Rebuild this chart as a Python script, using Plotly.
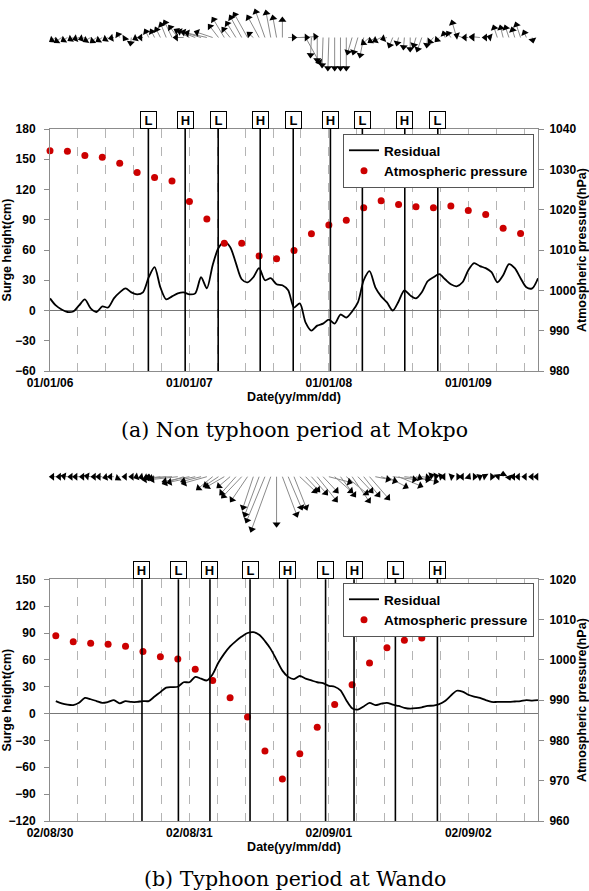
import math
import pandas as pd
import plotly.graph_objects as go

W, H = 589, 891

# ---------------- (a) Non typhoon period at Mokpo ----------------
start_a = "2001-01-06 00:00"
end_a = "2001-01-09 12:00"
residual_a = [12, 5, 1, -1.5, -1, 5, 11, 2, -1.5, 4,
              3, 12, 18, 22, 18, 16, 18, 33, 43, 23,
              11, 14, 17, 18, 16, 17, 33, 22, 45, 62,
              68, 63, 47, 31, 28, 33, 42, 30, 32, 26,
              25, 20, 3, 7, -12, -20, -15, -13, -9, -13,
              -4, -7, -1, 8, 30, 39, 23, 14, 8, 0,
              9, 20, 15, 12, 18, 29, 33, 36, 31, 26,
              24, 28, 40, 47, 44, 42, 38, 28, 35, 46,
              42, 32, 23, 22, 32]
pressure_a = [1034.6, 1034.5, 1033.4, 1033.0, 1031.5, 1029.2, 1028.0, 1027.1,
              1022.0, 1017.7, 1011.7, 1011.7, 1008.5, 1007.8, 1009.9, 1014.0,
              1016.2, 1017.4, 1020.5, 1022.2, 1021.3, 1020.7, 1020.5, 1020.9,
              1019.8, 1018.8, 1015.4, 1014.1]
tide_a_times = ["2001-01-06 16:56", "2001-01-06 23:16", "2001-01-07 04:57",
                "2001-01-07 12:11", "2001-01-07 17:52", "2001-01-08 00:16",
                "2001-01-08 05:46", "2001-01-08 13:04", "2001-01-08 18:45"]
tide_a_labels = ["L", "H", "L", "H", "L", "H", "L", "H", "L"]
# hourly wind stick components (east, north)
wind_u_a = [-6, -6, -7, -6, -5, -6, -6, -7, -6, -6, -5, -5, -3, -2, -1, -4, -5,
            -4, -4, -5, -6, -8, -9, -10, -15, -18, -20, -22, -18, -10, -12, -8,
            -10, -12, -14, -6, -12, -10, -5, -4, 0, 8, 15, 18, 15, -1, 0, -1, -1,
            0, 0, 0, -5, -5, -4, -8, -7, -8, -6, -4, -2, -1, 0, -3, -5, -1, -5,
            -4, -2, -4, -5, -8, -6, -4, -10, -3, -4, -4, -3, -4, -3, -5, -3, 1, 0]
wind_v_a = [1, -4, -5, -4, -3, -2, -2, -4, -5, -4, -3, -1, 5, -3, -8, -2, 0,
            8, 8, 10, 15, 17, 12, 0, 8, 7, 6, 5, 6, 13, 20, 10,
            16, 22, 25, 5, 22, 28, 27, 22, 20, 0, 0, 1, -27, -20, -25, -30, -33,
            -33, -33, -33, -17, -17, -20, -7, -5, -4, -2, -10, -8, -12, -14, -10, -14, -10, -6,
            -4, 6, 6, 17, 3, 0, 0, 1, 0, 1, 12, 12, 12, 10, 15, 7, -5, 0]

# ---------------- (b) Typhoon period at Wando ----------------
start_b = "2002-08-30 00:00"
first_b = "2002-08-30 01:00"
end_b = "2002-09-02 12:00"
residual_b = [14, 11.5, 10, 9.5, 12, 17.5, 16, 14, 12, 13,
              15, 11.5, 14, 13, 13, 14, 14, 19, 24, 29,
              29.5, 30, 35, 35, 41, 39, 37, 44, 57, 67,
              75, 81, 86, 90, 91, 88, 81, 72, 60, 48,
              41, 38.5, 42, 39, 37, 35, 34, 31, 30, 26,
              15, 6, 4.5, 8, 12, 9.5, 11, 12, 10, 8.5,
              6.5, 5.5, 6, 7, 8.5, 9, 10.5, 14, 20, 25.5,
              24.5, 21, 19, 17.5, 15, 13, 13, 13, 13, 13.5,
              14, 15, 14.5, 15]
pressure_b = [1006.0, 1004.5, 1004.1, 1003.9, 1003.4, 1002.1, 1000.8, 1000.2,
              997.7, 994.9, 990.6, 985.8, 977.4, 970.4, 976.7, 983.3,
              988.9, 993.8, 999.2, 1003.0, 1004.9, 1005.4, 1006.8, 1009.1,
              1010.3, 1011.0, 1011.5, 1011.8]
tide_b_times = ["2002-08-30 15:50", "2002-08-30 22:06", "2002-08-31 03:32",
                "2002-08-31 10:26", "2002-08-31 16:54", "2002-08-31 23:26",
                "2002-09-01 04:20", "2002-09-01 11:27", "2002-09-01 18:41"]
tide_b_labels = ["H", "L", "H", "L", "H", "L", "H", "L", "H"]
wind_u_b = [-6, -5, -6, -5, -6, -5, -6, -5, -6, -5, -6, -4,
            -3, -2, -3, -4, -5, -8, -12,
            -24, -27, -28, -21, -27, -28, -20, -25,
            -16, -15, -19, -13, -16, -20, -17,
            -11, -15, -19, -20, 0,
            15, 14, 13, 17, 14, 16, 20, 15, 23, 18, 15, 22, 18, 15, 16, 20,
            15, 16, 21, 24, 24, 26, 28,
            6, 8, 6, 5, 4, -4, 3, 4, -3, 2, 3, 2, -3, 3, 2, 0, 1, -4, -5, -4, -3, -4]
wind_v_b = [0, 0, 1, 0, 0, 0, 1, 0, 0, -1, 0, -3,
            0, 0, -1, -1, -2, -2, -2,
            -3, -1, -3, -7, -5, -6, -5, -7,
            -13, -10, -11, -11, -18, -21, -25,
            -33, -40, -46, -55, -50,
            -40, -33, -33, -16, -15, -18, -25, -16, -6, -16, -20, -18, -26, -16, -20, -23,
            -3, -5, -11, -3, -10, -3, -5,
            -2, -1, 2, 1, 1, 0, 1, 0, 0, -2, 0, 1, 2, 0, 2, 5, -3, 0, 0, 0, 0, 0]

date_title = "Date(yy/mm/dd)"
left_title = "Surge height(cm)"
right_title = "Atmospheric pressure(hPa)"
captions = ["(a) Non typhoon period at Mokpo", "(b) Typhoon period at Wando"]

# ---------------- layout helpers ----------------
def py(y_px):
    return 1 - y_px / H

XL, XR = 50 / W, 538 / W
SANS = "Liberation Sans, Arial, sans-serif"
GRID = "#b4b4b4"
AX = "#8c8c8c"
tickf = dict(family=SANS, size=12, color="black", weight="bold")
titlef = dict(family=SANS, size=12.5, color="black", weight="bold")

fig = go.Figure()

panels = [
    dict(res=residual_a, pres=pressure_a, t1=start_a,
         tide=tide_a_times, tl=tide_a_labels, wu=wind_u_a, wv=wind_v_a,
         x="x", y="y", y2="y2", wx="x3", wy="y5", legend="legend", wind_first=0),
    dict(res=residual_b, pres=pressure_b, t1=first_b,
         tide=tide_b_times, tl=tide_b_labels, wu=wind_u_b, wv=wind_v_b,
         x="x2", y="y3", y2="y4", wx="x4", wy="y6", legend="legend2", wind_first=1),
]

annotations = []
shapes = []
sx = 84.0 / 488.0  # hours per pixel in the stick panels
for p in panels:
    t_res = pd.date_range(p["t1"], periods=len(p["res"]), freq="h")
    t_pres = pd.date_range(p["t1"], periods=len(p["pres"]), freq="3h")
    fig.add_trace(go.Scatter(x=t_res, y=p["res"], mode="lines", name="Residual",
                             line=dict(color="black", width=1.8, shape="spline", smoothing=0.8),
                             xaxis=p["x"], yaxis=p["y"], legend=p["legend"]))
    fig.add_trace(go.Scatter(x=t_pres, y=p["pres"], mode="markers", name="Atmospheric pressure",
                             marker=dict(color="#cc0000", size=7), cliponaxis=False,
                             xaxis=p["x"], yaxis=p["y2"], legend=p["legend"]))
    for t, lab in zip(p["tide"], p["tl"]):
        shapes.append(dict(type="line", xref=p["x"], yref=p["y"] + " domain",
                           x0=t, x1=t, y0=0, y1=1, line=dict(color="black", width=1.6)))
        annotations.append(dict(x=t, y=1, xref=p["x"], yref=p["y"] + " domain",
                                yanchor="bottom", text=lab, showarrow=False,
                                font=dict(family=SANS, size=13, color="black", weight="bold"),
                                bordercolor="black", borderwidth=1, bgcolor="white",
                                width=13, height=14, borderpad=1))
    # wind sticks: x axis in hours from start, y axis in pixels
    xs, ys, hx, hy, ang = [], [], [], [], []
    for i, (u, v) in enumerate(zip(p["wu"], p["wv"])):
        h0 = i + p["wind_first"]
        if u == 0 and v == 0:
            continue
        L = math.hypot(u, v)
        xs += [h0, h0 + u * sx, None]
        ys += [0, v, None]
        back = 2.5 / L
        hx.append(h0 + u * (1 - back) * sx)
        hy.append(v * (1 - back))
        ang.append(math.degrees(math.atan2(u, v)))
    fig.add_trace(go.Scatter(x=xs, y=ys, mode="lines", line=dict(color="#8a8a8a", width=1),
                             xaxis=p["wx"], yaxis=p["wy"], showlegend=False, hoverinfo="skip"))
    fig.add_trace(go.Scatter(x=hx, y=hy, mode="markers",
                             marker=dict(symbol="triangle-up", size=7, color="black", angle=ang,
                                         line=dict(width=0)),
                             xaxis=p["wx"], yaxis=p["wy"], showlegend=False, hoverinfo="skip",
                             cliponaxis=False))

for k, cap in enumerate(captions):
    annotations.append(dict(x=0.5, y=py([430, 879][k]), xref="paper", yref="paper",
                            text=cap, showarrow=False, xanchor="center", yanchor="middle",
                            font=dict(family="DejaVu Serif, serif", size=20.5, color="black")))

def xaxis_cfg(t0, t1, anchor):
    return dict(domain=[XL, XR], type="date", range=[t0, t1], anchor=anchor, automargin=False,
                tick0=t0, dtick=86400000, tickformat="%y/%m/%d", tickfont=tickf,
                showgrid=True, griddash="dash", gridcolor=GRID, gridwidth=1,
                minor=dict(tick0=t0, dtick=17280000, showgrid=True, griddash="dash",
                           gridcolor=GRID, gridwidth=1),
                showline=True, linecolor=AX, linewidth=1, mirror=True, ticks="",
                zeroline=False, ticklabelstandoff=1,
                title=dict(text=date_title, font=titlef, standoff=0))

def yleft(dom, r, anchor):
    return dict(domain=dom, range=r, dtick=30, anchor=anchor, tickfont=tickf, automargin=False,
                ticks="outside", ticklen=5, tickcolor=AX, showline=True, linecolor=AX,
                showgrid=False, zeroline=True, zerolinecolor="#777777", zerolinewidth=1,
                ticklabelstandoff=6, title=dict(text=left_title, font=titlef, standoff=6))

def yright(over, r, anchor):
    return dict(overlaying=over, side="right", range=r, dtick=10, anchor=anchor,
                automargin=False, tickfont=tickf, ticks="outside", ticklen=5, tickcolor=AX,
                showline=True, linecolor=AX, showgrid=False, zeroline=False,
                ticklabelstandoff=3, title=dict(text=right_title, font=titlef, standoff=6))

dom_a = [py(371), py(129)]
dom_b = [py(821), py(579.3)]

leg = dict(xanchor="left", yanchor="top", bgcolor="white", bordercolor="#555555",
           borderwidth=1, font=dict(family=SANS, size=13.5, color="black", weight="bold"),
           itemwidth=30, tracegroupgap=0)

hidden = dict(visible=False, automargin=False)
fig.update_layout(
    template="none",
    width=W, height=H, margin=dict(l=0, r=0, t=0, b=0, autoexpand=False),
    paper_bgcolor="white", plot_bgcolor="white",
    font=dict(family=SANS, color="black"),
    xaxis=xaxis_cfg(start_a, end_a, "y"),
    yaxis=yleft(dom_a, [-60, 180], "x"),
    yaxis2=yright("y", [980, 1040], "x"),
    xaxis2=xaxis_cfg(start_b, end_b, "y3"),
    yaxis3=yleft(dom_b, [-120, 150], "x2"),
    yaxis4=yright("y3", [960, 1020], "x2"),
    xaxis3=dict(domain=[XL, XR], range=[0, 84], anchor="y5", **hidden),
    yaxis5=dict(domain=[py(75), py(0)], range=[-37.5, 37.5], anchor="x3", **hidden),
    xaxis4=dict(domain=[XL, XR], range=[0, 84], anchor="y6", **hidden),
    yaxis6=dict(domain=[py(540), py(440)], range=[-63.3, 36.7], anchor="x4", **hidden),
    legend=dict(x=343 / W, y=py(134), **leg),
    legend2=dict(x=343 / W, y=py(583), **leg),
    shapes=shapes, annotations=annotations,
)

fig.write_html("out.html")
